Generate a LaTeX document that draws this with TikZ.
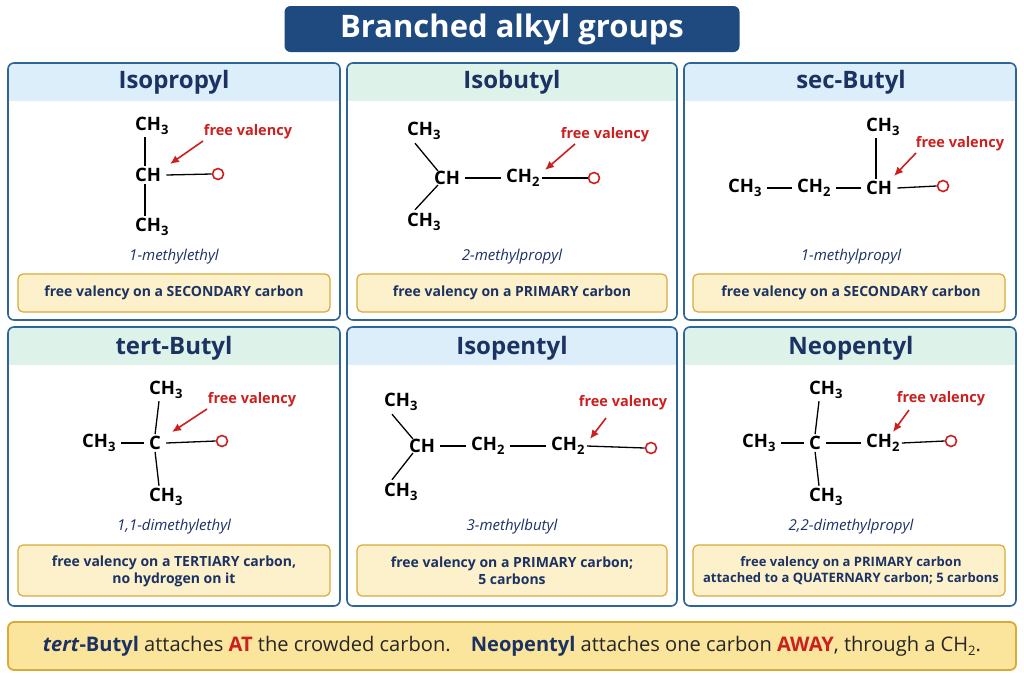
\documentclass[tikz,border=0pt]{standalone}
\usepackage{fontspec}
\setmainfont{Open Sans}
\usetikzlibrary{arrows.meta}
\definecolor{navy}{HTML}{1B3263}
\definecolor{tbox}{HTML}{1E4A80}
\definecolor{pborder}{HTML}{2F6496}
\definecolor{hblue}{HTML}{DCEEF9}
\definecolor{hgreen}{HTML}{DDF3EA}
\definecolor{nfill}{HTML}{FDF1CC}
\definecolor{nborder}{HTML}{D9AA3A}
\definecolor{bfill}{HTML}{FBE49B}
\definecolor{vred}{HTML}{CC1F1F}
\newcommand{\sbs}[1]{\raisebox{-0.45ex}{\fontsize{13}{13}\selectfont #1}}
\tikzset{
 x=1pt,y=-1pt,
 panel/.style={draw=pborder,line width=1.6pt,rounded corners=6pt},
 head/.style={font=\fontsize{24}{26}\selectfont\bfseries,text=navy},
 grp/.style={font=\fontsize{18.5}{20}\selectfont\bfseries,inner sep=2pt,anchor=west},
 bond/.style={line width=1.3pt},
 fv/.style={font=\fontsize{14.5}{15}\selectfont\bfseries,text=vred},
 fva/.style={draw=vred,line width=1.6pt,-{Latex[length=9pt,width=8pt]}},
 rad/.style={circle,draw=vred,line width=1.6pt,minimum size=11pt,inner sep=0pt},
 iupac/.style={font=\fontsize{15}{17}\selectfont\itshape,text=navy},
 note/.style={draw=nborder,fill=nfill,line width=1.2pt,rounded corners=5pt},
 notet/.style={font=\fontsize{14}{17}\selectfont\bfseries,text=navy,align=center}
}
\begin{document}
\begin{tikzpicture}
\useasboundingbox (0,0) rectangle (1024,683);
\fill[white] (0,0) rectangle (1024,683);
% title
\node[fill=tbox,rounded corners=6pt,minimum width=455pt,minimum height=46pt,text=white,font=\fontsize{31}{32}\selectfont\bfseries] (title) at (512,29) {Branched alkyl groups};
% panels
\foreach \x/\w/\y/\h/\c in {8/332/63/257/hblue,347/330/63/257/hgreen,684/332/63/257/hblue,8/332/327/279/hgreen,347/330/327/279/hblue,684/332/327/279/hgreen}{
 \begin{scope}
 \clip[rounded corners=6pt] (\x,\y) rectangle ++(\w,\h);
 \fill[white] (\x,\y) rectangle ++(\w,\h);
 \fill[\c] (\x,\y) rectangle ++(\w,38);
 \end{scope}
 \draw[panel] (\x,\y) rectangle ++(\w,\h);
}
\node[head] (h1) at (174,82) {Isopropyl};
\node[head] (h2) at (512,82) {Isobutyl};
\node[head] (h3) at (851,82) {sec-Butyl};
\node[head] (h4) at (174,348) {tert-Butyl};
\node[head] (h5) at (512,348) {Isopentyl};
\node[head] (h6) at (851,348) {Neopentyl};
% ---- panel 1
\node[grp] (a1) at (133,126) {CH\sbs{3}};
\node[grp] (a2) at (133,175) {CH};
\node[grp] (a3) at (133,227) {CH\sbs{3}};
\node[rad] (ar) at (218,174) {};
\draw[bond] ([xshift=12pt]a1.south west) -- ([xshift=12pt]a2.north west);
\draw[bond] ([xshift=12pt]a2.south west) -- ([xshift=12pt]a3.north west);
\draw[bond] ([xshift=3pt]a2.east) -- (ar.west);
\node[fv] (af) at (248,132) {free valency};
\draw[fva] (203,141) -- (170,164);
\node[iupac] (an) at (174,257) {1-methylethyl};
\draw[note] (18,274) rectangle (330,312);
\node[notet] (at) at (174,293) {free valency on a SECONDARY carbon};
% ---- panel 2
\node[grp] (b1) at (405,131) {CH\sbs{3}};
\node[grp] (b2) at (432,178) {CH};
\node[grp] (b3) at (405,222) {CH\sbs{3}};
\node[grp] (b4) at (504,178) {CH\sbs{2}};
\node[rad] (br) at (594,178) {};
\draw[bond] (b2.north west)++(6,2) -- ([xshift=10pt,yshift=-1pt]b1.south west);
\draw[bond] (b2.south west)++(6,-2) -- ([xshift=10pt,yshift=1pt]b3.north west);
\draw[bond] ([xshift=3pt]b2.east) -- ([xshift=-3pt]b4.west);
\draw[bond] (b4.east) -- (br.west);
\node[fv] (bf) at (605,135) {free valency};
\draw[fva] (575,144) -- (545,170);
\node[iupac] (bn) at (512,257) {2-methylpropyl};
\draw[note] (357,274) rectangle (667,312);
\node[notet] (bt) at (512,293) {free valency on a PRIMARY carbon};
% ---- panel 3
\node[grp] (c1) at (726,188) {CH\sbs{3}};
\node[grp] (c2) at (795,188) {CH\sbs{2}};
\node[grp] (c3) at (864,188) {CH};
\node[grp] (c4) at (864,127) {CH\sbs{3}};
\node[rad] (cr) at (943,186) {};
\draw[bond] ([xshift=3pt]c1.east) -- ([xshift=-3pt]c2.west);
\draw[bond] ([xshift=3pt]c2.east) -- ([xshift=-3pt]c3.west);
\draw[bond] ([xshift=3pt]c3.east) -- (cr.west);
\draw[bond] ([xshift=12pt]c4.south west) -- ([xshift=12pt]c3.north west);
\node[fv] (cf) at (960,144) {free valency};
\draw[fva] (916,153) -- (894,176);
\node[iupac] (cn) at (851,257) {1-methylpropyl};
\draw[note] (693,274) rectangle (1005,312);
\node[notet] (ct) at (851,293) {free valency on a SECONDARY carbon};
% ---- panel 4
\node[grp] (d1) at (147,390) {CH\sbs{3}};
\node[grp] (d2) at (147,443) {C};
\node[grp] (d3) at (147,497) {CH\sbs{3}};
\node[grp] (d4) at (80,443) {CH\sbs{3}};
\node[rad] (dr) at (222,441) {};
\draw[bond] ([xshift=12pt]d1.south west) -- (d2.north);
\draw[bond] (d2.south) -- ([xshift=12pt]d3.north west);
\draw[bond] ([xshift=3pt]d4.east) -- ([xshift=-3pt]d2.west);
\draw[bond] ([xshift=3pt]d2.east) -- (dr.west);
\node[fv] (df) at (252,400) {free valency};
\draw[fva] (207,409) -- (172,432);
\node[iupac] (dn) at (174,527) {1,1-dimethylethyl};
\draw[note] (18,545) rectangle (330,596);
\node[notet] (dt) at (174,571) {free valency on a TERTIARY carbon,\\ no hydrogen on it};
% ---- panel 5
\node[grp] (e1) at (382,402) {CH\sbs{3}};
\node[grp] (e2) at (407,446) {CH};
\node[grp] (e3) at (382,492) {CH\sbs{3}};
\node[grp] (e4) at (469,446) {CH\sbs{2}};
\node[grp] (e5) at (549,446) {CH\sbs{2}};
\node[rad] (er) at (651,448) {};
\draw[bond] (e2.north west)++(6,2) -- ([xshift=10pt,yshift=-1pt]e1.south west);
\draw[bond] (e2.south west)++(6,-2) -- ([xshift=10pt,yshift=1pt]e3.north west);
\draw[bond] ([xshift=3pt]e2.east) -- ([xshift=-3pt]e4.west);
\draw[bond] ([xshift=3pt]e4.east) -- ([xshift=-3pt]e5.west);
\draw[bond] (e5.east) -- (er.west);
\node[fv] (ef) at (623,403) {free valency};
\draw[fva] (606,418) -- (590,439);
\node[iupac] (en) at (512,527) {3-methylbutyl};
\draw[note] (357,545) rectangle (667,596);
\node[notet] (et) at (512,571) {free valency on a PRIMARY carbon;\\ 5 carbons};
% ---- panel 6
\node[grp] (f1) at (807,390) {CH\sbs{3}};
\node[grp] (f2) at (807,443) {C};
\node[grp] (f3) at (807,497) {CH\sbs{3}};
\node[grp] (f4) at (740,443) {CH\sbs{3}};
\node[grp] (f5) at (864,443) {CH\sbs{2}};
\node[rad] (fr) at (951,441) {};
\draw[bond] ([xshift=12pt]f1.south west) -- (f2.north);
\draw[bond] (f2.south) -- ([xshift=12pt]f3.north west);
\draw[bond] ([xshift=3pt]f4.east) -- ([xshift=-3pt]f2.west);
\draw[bond] ([xshift=3pt]f2.east) -- ([xshift=-3pt]f5.west);
\draw[bond] (f5.east) -- (fr.west);
\node[fv] (ff) at (941,399) {free valency};
\draw[fva] (909,410) -- (893,432);
\node[iupac] (fn) at (851,527) {2,2-dimethylpropyl};
\draw[note] (693,545) rectangle (1005,596);
\node[notet,font=\fontsize{13}{16}\selectfont\bfseries] (ft) at (851,571) {free valency on a PRIMARY carbon\\ attached to a QUATERNARY carbon; 5 carbons};
% ---- banner
\draw[draw=nborder,fill=bfill,line width=1.8pt,rounded corners=6pt] (8,622) rectangle (1016,670);
\node[text=navy] (bn) at (512,646) {\resizebox{938pt}{!}{\fontsize{20}{22}\selectfont\bfseries
\textit{tert}-Butyl \mdseries\textcolor{black!85}{attaches} \bfseries\textcolor{vred}{AT} \mdseries\textcolor{black!85}{the crowded carbon.}\quad \bfseries Neopentyl \mdseries\textcolor{black!85}{attaches one carbon} \bfseries\textcolor{vred}{AWAY}\mdseries\textcolor{black!85}{, through a CH\raisebox{-0.4ex}{\fontsize{13}{13}\selectfont 2}.}}};
\end{tikzpicture}
\end{document}
